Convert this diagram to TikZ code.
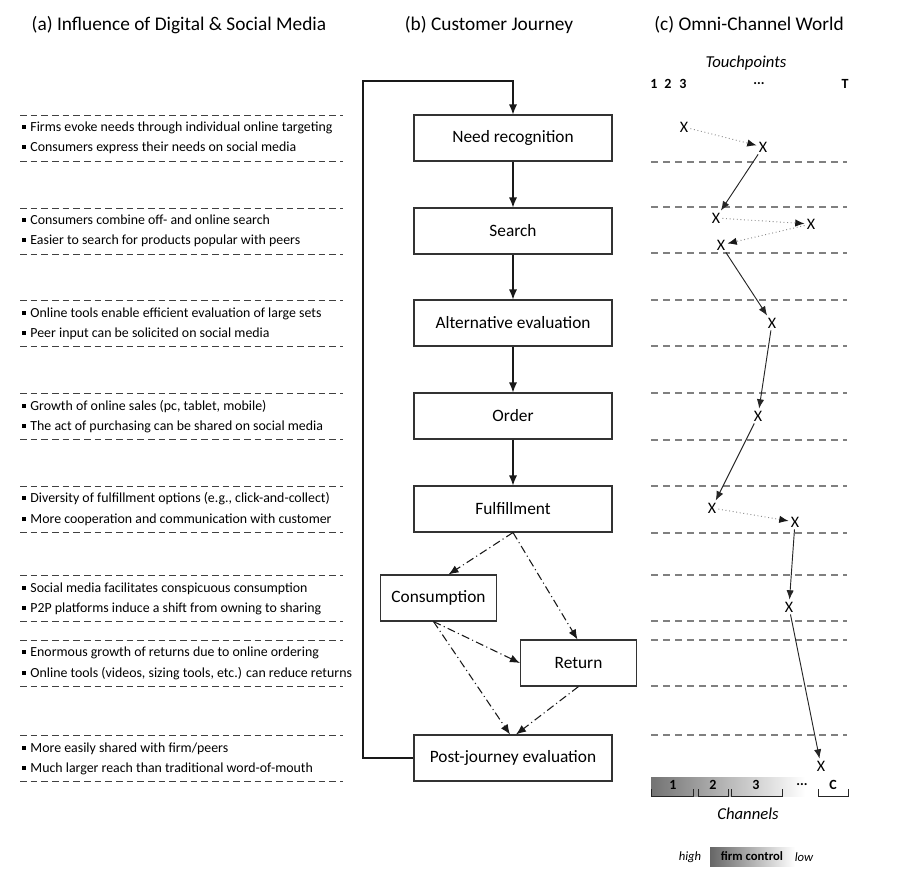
\documentclass[tikz,border=0pt]{standalone}
\usepackage{fontspec}
\setmainfont{Carlito}
\usetikzlibrary{arrows.meta,calc}
\newcommand{\sqb}{\rule[0.16em]{0.27em}{0.27em}\hspace{0.32em}}
\begin{document}
\begin{tikzpicture}[x=0.75pt,y=-0.75pt,
  box/.style={draw=black!80, line width=0.8pt, fill=white, minimum height=34.5pt, font=\fontsize{13}{15}\selectfont, inner sep=0pt},
  wbox/.style={box, minimum width=148.5pt},
  arr/.style={-{Latex[length=7.5pt,width=6pt]}, line width=0.8pt, black!90},
  dda/.style={arr, dash pattern=on 6pt off 2.5pt on 0.8pt off 2.5pt},
  ldash/.style={black!75, line width=0.75pt, dash pattern=on 5pt off 3pt},
  rdash/.style={black!50, line width=1.1pt, dash pattern=on 5.5pt off 3.5pt},
  bul/.style={anchor=mid west, inner sep=0pt, font=\fontsize{10.4}{12}\selectfont},
  title/.style={font=\fontsize{14.5}{17}\selectfont, inner sep=0pt},
  xm/.style={font=\fontsize{12}{14}\selectfont, inner sep=1.5pt},
  sarr/.style={-{Latex[length=7pt,width=5.5pt]}, line width=0.7pt, black!85},
  darr/.style={-{Latex[length=7pt,width=5.5pt,color=black!90]}, line width=0.7pt, black!45, dotted},
  lab/.style={inner sep=0pt, font=\fontsize{12.5}{14}\selectfont\itshape},
  bnum/.style={inner sep=0pt, font=\fontsize{10.5}{12}\selectfont\bfseries},
  brk/.style={black!85, line width=0.75pt},
]
\useasboundingbox (0,0) rectangle (903,869);

% titles
\node[title] (ta) at (179,25) {(a) Influence of Digital \& Social Media};
\node[title] (tb) at (489,25) {(b) Customer Journey};
\node[title] (tc) at (749,25) {(c) Omni-Channel World};

% left dashed separators
\foreach \y in {115,161,208,254,300,346,393,439,486,532,575,621,640,686,735,781}
  \draw[ldash] (20,\y) -- (343,\y);

% left texts
\node[bul] (a1) at (22,128) {\sqb Firms evoke needs through individual online targeting};
\node[bul] (a2) at (22,148) {\sqb Consumers express their needs on social media};
\node[bul] (b1) at (22,221) {\sqb Consumers combine off- and online search};
\node[bul] (b2) at (22,241) {\sqb Easier to search for products popular with peers};
\node[bul] (c1) at (22,314) {\sqb Online tools enable efficient evaluation of large sets};
\node[bul] (c2) at (22,334) {\sqb Peer input can be solicited on social media};
\node[bul] (d1) at (22,407) {\sqb Growth of online sales (pc, tablet, mobile)};
\node[bul] (d2) at (22,427) {\sqb The act of purchasing can be shared on social media};
\node[bul] (e1) at (22,499) {\sqb Diversity of fulfillment options (e.g., click-and-collect)};
\node[bul] (e2) at (22,520) {\sqb More cooperation and communication with customer};
\node[bul] (f1) at (22,589) {\sqb Social media facilitates conspicuous consumption};
\node[bul] (f2) at (22,609) {\sqb P2P platforms induce a shift from owning to sharing};
\node[bul] (g1) at (22,653) {\sqb Enormous growth of returns due to online ordering};
\node[bul] (g2) at (22,674) {\sqb Online tools (videos, sizing tools, etc.) can reduce returns};
\node[bul] (h1) at (22,749) {\sqb More easily shared with firm/peers};
\node[bul] (h2) at (22,769) {\sqb Much larger reach than traditional word-of-mouth};

% journey boxes
\node[wbox] (need) at (513,138) {Need recognition};
\node[wbox] (search) at (513,231) {Search};
\node[wbox] (alt) at (513,323) {Alternative evaluation};
\node[wbox] (order) at (513,416) {Order};
\node[wbox] (ful) at (513,509) {Fulfillment};
\node[box, minimum width=87.5pt] (cons) at (438.5,598) {Consumption};
\node[box, minimum width=87pt] (ret) at (578.5,663) {Return};
\node[wbox] (post) at (513,758) {Post-journey evaluation};

\draw[arr] (need) -- (search);
\draw[arr] (search) -- (alt);
\draw[arr] (alt) -- (order);
\draw[arr] (order) -- (ful);
\coordinate (loop) at (363,81);
\draw[arr] (post.west) -| (loop) -| (need.north);

\draw[dda] (ful.south) -- ($(cons.north)+(10,0)$);
\draw[dda] (ful.south) -- ($(ret.north)+(-1,0)$);
\draw[dda] ($(cons.south)+(-5,0)$) -- (ret.west);
\draw[dda] ($(cons.south)+(-5,0)$) -- ($(post.north)+(-3,0)$);
\draw[dda] (ret.south) -- ($(post.north)+(3,0)$);

% right column
\node[lab] (tp) at (746,63) {Touchpoints};
\node[bnum] (n1) at (654,84) {1};
\node[bnum] (n2) at (668,84) {2};
\node[bnum] (n3) at (683,84) {3};
\node[bnum] (nd) at (759,84) {...};
\node[bnum] (nT) at (845,84) {T};

\foreach \y in {162,207,253,300,346,393,440,486,533,575,621,640,686,735}
  \draw[rdash] (651,\y) -- (847,\y);

\node[xm] (x1) at (684,127) {X};
\node[xm] (x2) at (763,147) {X};
\node[xm] (x3) at (716,218) {X};
\node[xm] (x4) at (811,224) {X};
\node[xm] (x5) at (721,245) {X};
\node[xm] (x6) at (772,323) {X};
\node[xm] (x7) at (758,416) {X};
\node[xm] (x8) at (712,508) {X};
\node[xm] (x9) at (795,522) {X};
\node[xm] (x10) at (789,607) {X};
\node[xm] (x11) at (821,766) {X};

\draw[darr] (x1) -- (x2);
\draw[sarr] (x2) -- (x3);
\draw[darr] (x3) -- (x4);
\draw[darr] (x4) -- (x5);
\draw[sarr] (x5) -- (x6);
\draw[sarr] (x6) -- (x7);
\draw[sarr] (x7) -- (x8);
\draw[darr] (x8) -- (x9);
\draw[sarr] (x9) -- (x10);
\draw[sarr] (x10) -- (x11);

% channels bar
\shade[left color=black!55, right color=white] (651,777) rectangle (805,796);
\draw[brk] (651,789) -- (651,796) -- (693,796) -- (693,789);
\draw[brk] (698,789) -- (698,796) -- (728,796) -- (728,789);
\draw[brk] (731,789) -- (731,796) -- (782,796) -- (782,789);
\draw[brk] (818,789) -- (818,796) -- (848,796) -- (848,789);
\node[bnum] (c1) at (673,785) {1};
\node[bnum] (c2) at (713,785) {2};
\node[bnum] (c3) at (756,785) {3};
\node[bnum] (cd) at (802,785) {...};
\node[bnum] (cC) at (833,785) {C};
\node[lab] (chan) at (748,814) {Channels};

% firm control legend
\shade[left color=black!60, right color=white] (710,847) rectangle (795,866);
\node[inner sep=0pt, font=\fontsize{9.5}{11}\selectfont\bfseries] (fc) at (752,856) {firm control};
\node[inner sep=0pt, font=\fontsize{9.5}{11}\selectfont\itshape] (hi) at (690,857) {high};
\node[inner sep=0pt, font=\fontsize{9.5}{11}\selectfont\itshape] (lo) at (804,857) {low};
\end{tikzpicture}
\end{document}
